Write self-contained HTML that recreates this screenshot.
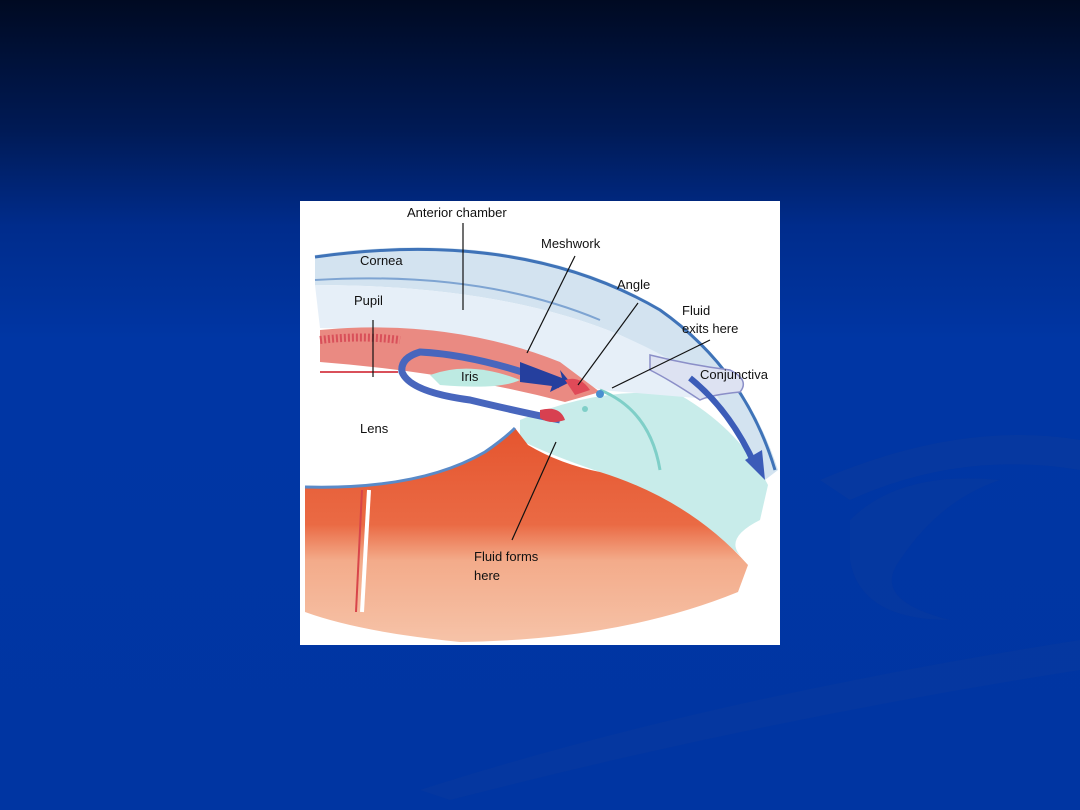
<!DOCTYPE html>
<html><head><style>
html,body{margin:0;padding:0;width:1080px;height:810px;overflow:hidden;background:#0033a0;}
svg{display:block}
text{font-family:"Liberation Sans",sans-serif;font-size:13px;fill:#111;}
</style></head><body>
<svg width="1080" height="810" viewBox="0 0 1080 810">
<defs>
<linearGradient id="bg" x1="0" y1="0" x2="0" y2="1">
<stop offset="0" stop-color="#000a22"/>
<stop offset="0.16" stop-color="#001a55"/>
<stop offset="0.28" stop-color="#002c8c"/>
<stop offset="0.42" stop-color="#0036a4"/>
<stop offset="1" stop-color="#0035a2"/>
</linearGradient>
<linearGradient id="org" x1="0" y1="0" x2="0" y2="1">
<stop offset="0" stop-color="#e5552f"/>
<stop offset="0.45" stop-color="#ea6a44"/>
<stop offset="0.62" stop-color="#f3ab8a"/>
<stop offset="1" stop-color="#f6c3a8"/>
</linearGradient>
</defs>
<rect width="1080" height="810" fill="url(#bg)"/>
<!-- faint swooshes -->
<path d="M820,480 Q960,420 1080,440 L1080,470 Q960,450 850,500 Z" fill="#0a3a9e" opacity="0.6"/>
<path d="M850,520 Q900,470 1000,480 Q940,500 900,560 Q870,600 950,620 Q860,620 850,560 Z" fill="#0a3a9e" opacity="0.5"/>
<path d="M420,790 Q700,700 1080,640 L1080,670 Q760,720 450,800 Z" fill="#0a3a9e" opacity="0.5"/>

<rect x="300" y="201" width="480" height="444" fill="#fff"/>
<!-- teal region -->
<path d="M520,420 Q600,385 680,395 Q740,430 768,485 L760,520 Q720,540 745,560 Q680,500 600,472 Q550,455 520,440 Z" fill="#c8ecea"/>
<!-- orange ciliary region -->
<path d="M305,487 Q420,490 485,452 Q505,438 515,428 L528,445 Q560,464 600,472 Q690,500 748,565 L738,592 Q620,640 460,642 Q360,632 305,612 Z" fill="url(#org)"/>
<path d="M305,487 Q420,490 485,452 Q505,438 515,428" fill="none" stroke="#5a8ac8" stroke-width="3"/>
<path d="M369,490 L362,612" stroke="#fff" stroke-width="4"/>
<path d="M362,490 L356,612" stroke="#d8454a" stroke-width="2"/>
<!-- cornea -->
<path d="M315,255 Q520,226 660,308 Q745,368 778,470 L765,480 Q720,380 620,335 Q500,285 315,285 Z" fill="#d3e3f0"/>
<path d="M315,257 Q520,228 660,310 Q745,370 775,470" fill="none" stroke="#3f73b8" stroke-width="3"/>
<path d="M315,280 Q480,270 600,320" fill="none" stroke="#7ea4d2" stroke-width="2"/>
<!-- anterior chamber -->
<path d="M315,285 Q500,285 620,335 Q700,370 720,400 L600,390 Q470,330 320,328 Z" fill="#e6eff8"/>
<!-- conjunctiva -->
<path d="M650,355 Q690,365 730,370 Q750,380 740,392 Q710,395 700,400 Q670,380 650,370 Z" fill="#dde2f2" stroke="#8b8fc8" stroke-width="1.5"/>
<path d="M600,390 Q650,410 660,470" fill="none" stroke="#7fcfc8" stroke-width="3"/>
<!-- iris red -->
<path d="M320,330 Q450,318 560,362 L600,392 L565,402 Q450,372 320,362 Z" fill="#ea8a82"/>
<path d="M320,340 Q360,335 400,340" stroke="#d9505a" stroke-width="8" fill="none" stroke-dasharray="2 2"/>
<path d="M320,372 L398,372" stroke="#d9505a" stroke-width="2"/>
<!-- blue loop -->
<path d="M560,385 Q480,355 420,352 Q400,358 402,372 Q410,392 470,400 Q520,412 560,420" fill="none" stroke="#4866bd" stroke-width="7"/>
<path d="M430,375 Q470,360 520,380 Q500,390 440,385 Z" fill="#bdeae2"/>
<path d="M520,362 L562,378 L560,370 L570,382 L550,392 L552,386 L520,382 Z" fill="#253f9e"/>
<path d="M565,380 Q580,375 590,390 L575,395 Z" fill="#e04a58"/>
<circle cx="600" cy="394" r="4" fill="#4a8fd0"/>
<circle cx="585" cy="409" r="3" fill="#7fcfc8"/>
<path d="M540,410 Q560,405 565,420 Q550,425 540,418 Z" fill="#d84050"/>
<!-- outflow arrow -->
<path d="M690,378 Q730,410 755,465" fill="none" stroke="#3c5cb8" stroke-width="6"/>
<path d="M745,460 L765,480 L762,450 Z" fill="#3c5cb8"/>
<!-- leader lines -->
<g stroke="#111" stroke-width="1.2">
<line x1="463" y1="223" x2="463" y2="310"/>
<line x1="575" y1="256" x2="527" y2="353"/>
<line x1="638" y1="303" x2="578" y2="385"/>
<line x1="710" y1="340" x2="612" y2="388"/>
<line x1="373" y1="320" x2="373" y2="377"/>
<line x1="556" y1="442" x2="512" y2="540"/>
</g>
<text x="407" y="217">Anterior chamber</text>
<text x="541" y="248">Meshwork</text>
<text x="360" y="265">Cornea</text>
<text x="617" y="289">Angle</text>
<text x="354" y="305">Pupil</text>
<text x="682" y="315">Fluid</text>
<text x="682" y="333">exits here</text>
<text x="700" y="379">Conjunctiva</text>
<text x="461" y="381">Iris</text>
<text x="360" y="433">Lens</text>
<text x="474" y="561">Fluid forms</text>
<text x="474" y="580">here</text>
</svg>
</body></html>
